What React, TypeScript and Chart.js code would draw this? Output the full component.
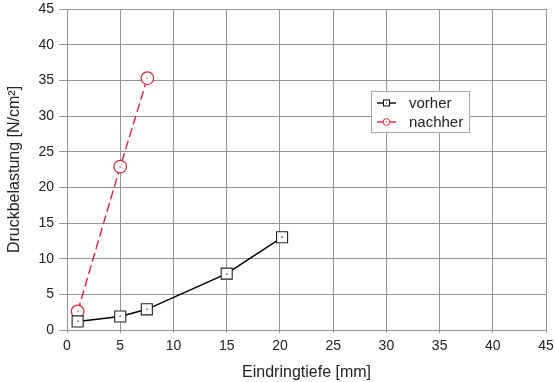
import React, { useEffect, useRef } from "react";
import { Chart, registerables } from "chart.js";

Chart.register(...registerables);

const vorherX = [1, 5, 7.5, 15, 20.2];
const vorherY = [1.2, 1.9, 2.9, 7.9, 13.0];
const nachherX = [1, 5, 7.55];
const nachherY = [2.6, 22.9, 35.3];
const xTicks = [0, 5, 10, 15, 20, 25, 30, 35, 40, 45];
const yTicks = [0, 5, 10, 15, 20, 25, 30, 35, 40, 45];
const seriesNames = ["vorher", "nachher"];

const FONT = "'Liberation Sans', Arial, Helvetica, sans-serif";
const TEXT = "#222222";
const GRID = "#959595";
const RED = "#d7263d";

const centerDots = {
  id: "centerDots",
  afterDatasetsDraw(chart: any) {
    const ctx = chart.ctx;
    chart.data.datasets.forEach((ds: any, i: number) => {
      const meta = chart.getDatasetMeta(i);
      ctx.save();
      ctx.fillStyle = ds.borderColor;
      meta.data.forEach((pt: any) => {
        ctx.fillRect(Math.round(pt.x) - 0.5, Math.round(pt.y) - 0.5, 1.2, 1.2);
      });
      ctx.restore();
    });
  },
};

const customLegend = {
  id: "customLegend",
  afterDraw(chart: any) {
    const ctx = chart.ctx;
    const bx = 371.5, by = 91.5, bw = 98, bh = 41;
    ctx.save();
    ctx.fillStyle = "#ffffff";
    ctx.fillRect(bx, by, bw, bh);
    ctx.strokeStyle = "#a8a8a8";
    ctx.lineWidth = 1;
    ctx.strokeRect(bx, by, bw, bh);
    const rows = [
      { name: seriesNames[0], color: "#000000", shape: "rect", y: by + 11.5 },
      { name: seriesNames[1], color: RED, shape: "circle", y: by + 30.5 },
    ];
    rows.forEach((r) => {
      ctx.strokeStyle = r.color;
      ctx.lineWidth = 1.4;
      ctx.beginPath();
      ctx.moveTo(377, r.y);
      ctx.lineTo(396, r.y);
      ctx.stroke();
      ctx.fillStyle = "#ffffff";
      ctx.lineWidth = 1;
      const cx = 386.5;
      if (r.shape === "rect") {
        ctx.fillRect(cx - 3, r.y - 3, 6, 6);
        ctx.strokeRect(cx - 3, r.y - 3, 6, 6);
      } else {
        ctx.beginPath();
        ctx.arc(cx, r.y, 3.4, 0, Math.PI * 2);
        ctx.fill();
        ctx.stroke();
      }
      ctx.fillStyle = r.color;
      ctx.fillRect(cx - 0.5, r.y - 0.5, 1, 1);
      ctx.fillStyle = TEXT;
      ctx.font = `15px ${FONT}`;
      ctx.textBaseline = "middle";
      ctx.textAlign = "left";
      ctx.fillText(r.name, 409, r.y + 0.5);
    });
    ctx.restore();
  },
};

export default function App() {
  const ref = useRef<HTMLCanvasElement | null>(null);
  useEffect(() => {
    document.body.style.margin = "0";
    const canvas = ref.current!;
    const chart = new Chart(canvas, {
      type: "scatter",
      data: {
        datasets: [
          {
            label: seriesNames[0],
            data: vorherX.map((x, i) => ({ x, y: vorherY[i] })),
            showLine: true,
            borderColor: "#000000",
            backgroundColor: "#ffffff",
            borderWidth: 1.5,
            pointStyle: "rect",
            pointRadius: 7.8,
            pointBorderWidth: 1.1,
            pointBorderColor: "#222222",
            pointBackgroundColor: "#ffffff",
          },
          {
            label: seriesNames[1],
            data: nachherX.map((x, i) => ({ x, y: nachherY[i] })),
            showLine: true,
            borderColor: RED,
            backgroundColor: "#ffffff",
            borderWidth: 1.4,
            borderDash: [9, 4],
            pointStyle: "circle",
            pointRadius: 6.3,
            pointBorderWidth: 1.2,
            pointBorderColor: RED,
            pointBackgroundColor: "#ffffff",
          },
        ],
      },
      options: {
        animation: false,
        responsive: false,
        maintainAspectRatio: false,
        layout: { padding: { top: 9, right: 8, left: 0, bottom: 0 } },
        plugins: {
          legend: { display: false },
          tooltip: { enabled: false },
        },
        scales: {
          x: {
            type: "linear",
            min: 0,
            max: 45,
            afterBuildTicks: (scale: any) => {
              scale.ticks = xTicks.map((v) => ({ value: v }));
            },
            afterFit: (scale: any) => {
              scale.height = 52;
              scale.paddingLeft = 0;
              scale.paddingRight = 0;
            },
            grid: { color: GRID, lineWidth: 1, tickLength: 3, drawTicks: true },
            border: { display: true, color: GRID },
            ticks: {
              color: TEXT,
              font: { family: FONT, size: 14 },
              padding: 5,
              maxRotation: 0,
            },
            title: {
              display: true,
              text: "Eindringtiefe [mm]",
              color: TEXT,
              font: { family: FONT, size: 16 },
              padding: { top: 0, bottom: 0 },
            },
          },
          y: {
            type: "linear",
            min: 0,
            max: 45,
            afterBuildTicks: (scale: any) => {
              scale.ticks = yTicks.map((v) => ({ value: v }));
            },
            afterFit: (scale: any) => {
              scale.width = 67;
              scale.paddingTop = 0;
              scale.paddingBottom = 0;
            },
            grid: { color: GRID, lineWidth: 1, tickLength: 8 },
            border: { display: true, color: GRID },
            ticks: {
              color: TEXT,
              font: { family: FONT, size: 14 },
              padding: 5,
            },
            title: {
              display: true,
              text: "Druckbelastung [N/cm²]",
              color: TEXT,
              font: { family: FONT, size: 16 },
              padding: { top: 5, bottom: 0 },
            },
          },
        },
      },
      plugins: [centerDots, customLegend],
    });
    return () => chart.destroy();
  }, []);
  return (
    <div style={{ width: 555, height: 382 }}>
      <canvas ref={ref} width={555} height={382} style={{ display: "block" }} />
    </div>
  );
}
